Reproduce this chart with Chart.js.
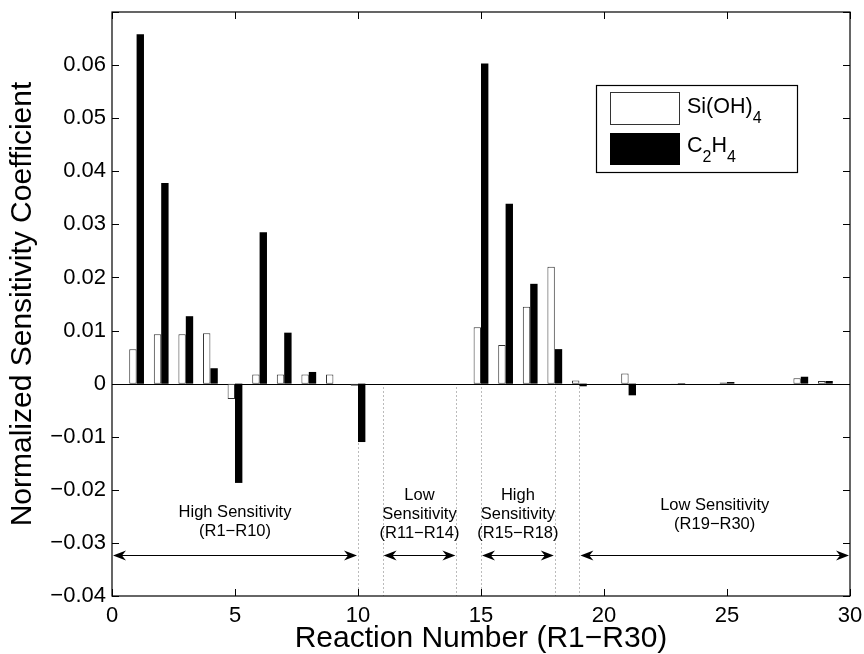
<!DOCTYPE html>
<html>
<head>
<meta charset="utf-8">
<script src="https://cdn.jsdelivr.net/npm/chart.js@4"></script>
<style>
html, body { margin: 0; padding: 0; background: #fff; }
</style>
</head>
<body>
<canvas id="chart" width="864" height="654"></canvas>
<script>
const reactions = [1, 2, 3, 4, 5, 6, 7, 8, 9, 10, 11, 12, 13, 14, 15, 16, 17, 18, 19, 20, 21, 22, 23, 24, 25, 26, 27, 28, 29, 30];
const siOH4 = [0.0065, 0.0093, 0.0093, 0.0095, -0.0029, 0.0017, 0.0017, 0.0017, 0.0017, -0.0004,
               0, 0, 0, 0, 0.0106, 0.0073, 0.0145, 0.0220, 0.0006, 0,
               0.0019, 0, -0.0001, 0, 0.0002, 0, 0, 0.0010, 0.0005, 0];
const c2h4 = [0.0658, 0.0378, 0.0127, 0.0029, -0.0187, 0.0285, 0.0096, 0.0022, 0, -0.0110,
              0, 0, 0, 0, 0.0603, 0.0339, 0.0188, 0.0065, -0.0005, 0,
              -0.0022, 0, 0.0001, 0, 0.0003, 0, 0, 0.0013, 0.0005, 0];
const xTicks = [0, 5, 10, 15, 20, 25, 30];
const yTicks = [-0.04, -0.03, -0.02, -0.01, 0, 0.01, 0.02, 0.03, 0.04, 0.05, 0.06, 0.07];
const regionBounds = [10, 11, 14, 15, 18, 19];
const regionArrows = [[0, 10], [11, 14], [15, 18], [19, 30]];
const regionCenters = [5, 12.5, 16.5, 24.5];
const regionTexts = [
    ["High Sensitivity", "(R1\u2212R10)"],
    ["Low", "Sensitivity", "(R11\u2212R14)"],
    ["High", "Sensitivity", "(R15\u2212R18)"],
    ["Low Sensitivity", "(R19\u2212R30)"]
];
const arrowLevel = -0.0322;

const fontFamily = "'Liberation Sans', Arial, Helvetica, sans-serif";

function fmtTick(v) {
    if (Math.abs(v) < 1e-9) return "0";
    if (v > 0.065) return "";
    return (v < 0 ? "\u2212" : "") + Math.abs(v).toFixed(2);
}

function arrowHead(ctx, tipX, y, dir) {
    // filled head with a notched back, pointing in dir (+1 right, -1 left)
    const len = 13, half = 5, notch = 4;
    ctx.beginPath();
    ctx.moveTo(tipX, y);
    ctx.lineTo(tipX - dir * len, y - half);
    ctx.lineTo(tipX - dir * (len - notch), y);
    ctx.lineTo(tipX - dir * len, y + half);
    ctx.closePath();
    ctx.fill();
}

const decorations = {
    id: "decorations",
    beforeDatasetsDraw(chart) {
        const { ctx, chartArea: a, scales: { x, y } } = chart;
        ctx.save();
        // zero line
        ctx.strokeStyle = "#000";
        ctx.lineWidth = 1;
        const y0 = Math.round(y.getPixelForValue(0)) + 0.5;
        ctx.beginPath();
        ctx.moveTo(a.left, y0);
        ctx.lineTo(a.right, y0);
        ctx.stroke();
        // dotted region separators
        ctx.strokeStyle = "#777";
        ctx.setLineDash([1, 3]);
        regionBounds.forEach(b => {
            const px = Math.round(x.getPixelForValue(b)) + 0.5;
            ctx.beginPath();
            ctx.moveTo(px, y0 + 3);
            ctx.lineTo(px, a.bottom);
            ctx.stroke();
        });
        ctx.restore();
    },
    afterDraw(chart) {
        const { ctx, chartArea: a, scales: { x, y } } = chart;
        ctx.save();
        ctx.strokeStyle = "#000";
        ctx.fillStyle = "#000";
        ctx.lineWidth = 1.2;
        ctx.strokeRect(a.left, a.top, a.right - a.left, a.bottom - a.top);

        // inward tick marks
        ctx.lineWidth = 1;
        const tl = 7;
        xTicks.forEach(t => {
            const px = Math.round(x.getPixelForValue(t)) + 0.5;
            ctx.beginPath();
            ctx.moveTo(px, a.bottom); ctx.lineTo(px, a.bottom - tl);
            ctx.moveTo(px, a.top); ctx.lineTo(px, a.top + tl);
            ctx.stroke();
        });
        yTicks.forEach(t => {
            const py = Math.round(y.getPixelForValue(t)) + 0.5;
            ctx.beginPath();
            ctx.moveTo(a.left, py); ctx.lineTo(a.left + tl, py);
            ctx.moveTo(a.right, py); ctx.lineTo(a.right - tl, py);
            ctx.stroke();
        });

        // double arrows
        const ay = Math.round(y.getPixelForValue(arrowLevel)) + 0.5;
        regionArrows.forEach(([s, e]) => {
            const x1 = x.getPixelForValue(s) + 1, x2 = x.getPixelForValue(e) - 1;
            ctx.beginPath();
            ctx.moveTo(x1 + 6, ay); ctx.lineTo(x2 - 6, ay);
            ctx.stroke();
            arrowHead(ctx, x1, ay, -1);
            arrowHead(ctx, x2, ay, 1);
        });

        // region labels
        ctx.font = "16.5px " + fontFamily;
        ctx.textAlign = "center";
        ctx.textBaseline = "alphabetic";
        regionTexts.forEach((lines, i) => {
            const cx = x.getPixelForValue(regionCenters[i]);
            let base;
            if (lines.length === 3) base = 500;
            else if (i === 0) base = 517;
            else base = 510;
            lines.forEach((ln, k) => ctx.fillText(ln, cx, base + k * 19));
        });

        // legend
        ctx.lineWidth = 1.2;
        ctx.strokeRect(596.5, 85.5, 201, 87);
        ctx.lineWidth = 1;
        ctx.strokeStyle = "#333";
        ctx.strokeRect(610.5, 92.5, 69, 32);
        ctx.fillStyle = "#000";
        ctx.fillRect(610, 133, 70, 32);
        ctx.textAlign = "left";
        const big = "21.5px " + fontFamily, small = "16px " + fontFamily;
        function run(parts, startX, base) {
            let cx = startX;
            parts.forEach(([txt, sub]) => {
                ctx.font = sub ? small : big;
                ctx.fillText(txt, cx, sub ? base + 10 : base);
                cx += ctx.measureText(txt).width;
            });
        }
        run([["Si(OH)", false], ["4", true]], 687, 113);
        run([["C", false], ["2", true], ["H", false], ["4", true]], 687, 152);
        ctx.restore();
    }
};

const ctx = document.getElementById("chart").getContext("2d");
new Chart(ctx, {
    type: "bar",
    data: {
        datasets: [
            {
                label: "Si(OH)4",
                data: reactions.map((r, i) => ({ x: r, y: siOH4[i] })),
                backgroundColor: "#fff",
                borderColor: "#333",
                borderWidth: 1,
                borderSkipped: false
            },
            {
                label: "C2H4",
                data: reactions.map((r, i) => ({ x: r, y: c2h4[i] })),
                backgroundColor: "#000",
                borderWidth: 0
            }
        ]
    },
    options: {
        responsive: false,
        animation: false,
        events: [],
        layout: { padding: { top: 12, right: 14, left: 0, bottom: 0 } },
        datasets: { bar: { categoryPercentage: 0.6, barPercentage: 1.0 } },
        plugins: {
            legend: { display: false },
            tooltip: { enabled: false }
        },
        scales: {
            x: {
                type: "linear",
                min: 0,
                max: 30,
                offset: false,
                grid: { display: false, drawTicks: false },
                border: { display: false },
                ticks: {
                    stepSize: 5,
                    color: "#000",
                    padding: 7,
                    maxRotation: 0,
                    font: { family: fontFamily, size: 22 }
                },
                title: {
                    display: true,
                    text: "Reaction Number (R1\u2212R30)",
                    color: "#000",
                    font: { family: fontFamily, size: 30, lineHeight: 1 },
                    padding: { top: 0, bottom: 0 }
                },
                afterFit: s => {
                    s.height = 58;
                    s.paddingLeft = 0;
                    s.paddingRight = 0;
                }
            },
            y: {
                min: -0.04,
                max: 0.07,
                grid: { display: false, drawTicks: false },
                border: { display: false },
                ticks: {
                    stepSize: 0.01,
                    color: "#000",
                    padding: 6,
                    font: { family: fontFamily, size: 22 },
                    callback: v => fmtTick(v)
                },
                title: {
                    display: true,
                    text: "Normalized Sensitivity Coefficient",
                    color: "#000",
                    font: { family: fontFamily, size: 30, lineHeight: 1 },
                    padding: { top: 8, bottom: 0 }
                },
                afterFit: s => {
                    s.width = 112;
                    s.paddingTop = 0;
                    s.paddingBottom = 0;
                }
            }
        }
    },
    plugins: [decorations]
});
</script>
</body>
</html>
